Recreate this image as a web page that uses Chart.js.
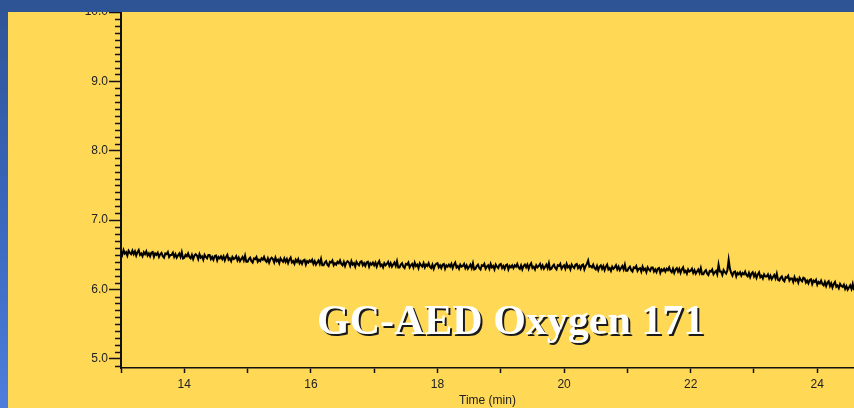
<!DOCTYPE html>
<html>
<head>
<meta charset="utf-8">
<script src="https://cdn.jsdelivr.net/npm/chart.js@4/dist/chart.umd.min.js"></script>
<style>
  html, body { margin: 0; padding: 0; background: #2F5496; }
  #stage { position: relative; width: 854px; height: 408px; overflow: hidden; background: #FFD856; }
  #side { position: absolute; left: 0; top: 0; width: 8px; height: 408px;
          background: linear-gradient(#2F5496, #3A66BB 50%, #4D7EDC); }
  #band { position: absolute; left: 0; top: 0; width: 854px; height: 12px; background: #2F5496; }
  #chart { position: absolute; left: 8px; top: 0; }
  #title { position: absolute; left: 317px; top: 299px; white-space: nowrap;
           font-family: "Liberation Serif", "Times New Roman", serif; font-weight: bold;
           font-size: 42px; line-height: 42px; color: #ffffff;
           text-shadow: 2px 2px 0 #1a1a1a; }
</style>
</head>
<body>
<div id="stage">
  <div id="side"></div>
  <canvas id="chart" width="846" height="408"></canvas>
  <div id="band"></div>
  <div id="title">GC-AED Oxygen 171</div>
</div>
<script>
// Detector signal (oxygen channel), one reading per sample
const sampleStart = 13.0;      // min
const sampleInterval = 0.02;   // min
const signal = [
  6.55, 6.50, 6.57, 6.52, 6.54, 6.49, 6.56, 6.53, 6.51, 6.56,
  6.51, 6.55, 6.49, 6.54, 6.57, 6.50, 6.52, 6.48, 6.54, 6.51,
  6.55, 6.49, 6.52, 6.48, 6.53, 6.54, 6.47, 6.52, 6.50, 6.53,
  6.47, 6.51, 6.53, 6.48, 6.46, 6.52, 6.51, 6.54, 6.47, 6.50,
  6.50, 6.53, 6.47, 6.51, 6.46, 6.49, 6.52, 6.47, 6.54, 6.45,
  6.46, 6.50, 6.48, 6.52, 6.47, 6.45, 6.50, 6.44, 6.49, 6.51,
  6.49, 6.44, 6.51, 6.46, 6.48, 6.43, 6.50, 6.47, 6.45, 6.50,
  6.50, 6.44, 6.47, 6.43, 6.48, 6.49, 6.42, 6.47, 6.45, 6.48,
  6.44, 6.48, 6.42, 6.47, 6.50, 6.43, 6.45, 6.41, 6.47, 6.44,
  6.45, 6.48, 6.42, 6.46, 6.41, 6.44, 6.47, 6.42, 6.49, 6.40,
  6.40, 6.44, 6.46, 6.41, 6.39, 6.45, 6.44, 6.47, 6.40, 6.43,
  6.41, 6.45, 6.43, 6.47, 6.42, 6.40, 6.45, 6.39, 6.44, 6.46,
  6.44, 6.39, 6.46, 6.41, 6.43, 6.38, 6.45, 6.42, 6.40, 6.45,
  6.40, 6.44, 6.38, 6.43, 6.46, 6.39, 6.41, 6.37, 6.43, 6.40,
  6.44, 6.38, 6.41, 6.37, 6.42, 6.43, 6.36, 6.41, 6.39, 6.42,
  6.40, 6.43, 6.37, 6.41, 6.36, 6.39, 6.42, 6.37, 6.44, 6.35,
  6.35, 6.39, 6.41, 6.36, 6.34, 6.40, 6.39, 6.42, 6.35, 6.38,
  6.36, 6.40, 6.38, 6.42, 6.37, 6.35, 6.40, 6.34, 6.39, 6.41,
  6.39, 6.34, 6.41, 6.36, 6.38, 6.33, 6.40, 6.37, 6.35, 6.40,
  6.41, 6.35, 6.38, 6.34, 6.39, 6.40, 6.33, 6.38, 6.36, 6.39,
  6.35, 6.39, 6.33, 6.38, 6.41, 6.34, 6.36, 6.32, 6.38, 6.35,
  6.37, 6.40, 6.34, 6.38, 6.33, 6.36, 6.39, 6.34, 6.41, 6.32,
  6.32, 6.36, 6.38, 6.33, 6.31, 6.37, 6.36, 6.39, 6.32, 6.35,
  6.37, 6.32, 6.39, 6.34, 6.36, 6.31, 6.38, 6.35, 6.33, 6.38,
  6.32, 6.36, 6.34, 6.38, 6.33, 6.31, 6.36, 6.30, 6.35, 6.37,
  6.38, 6.32, 6.35, 6.31, 6.36, 6.37, 6.30, 6.35, 6.33, 6.36,
  6.33, 6.37, 6.31, 6.36, 6.39, 6.32, 6.34, 6.30, 6.36, 6.33,
  6.34, 6.37, 6.31, 6.35, 6.30, 6.33, 6.36, 6.31, 6.38, 6.29,
  6.30, 6.34, 6.36, 6.31, 6.29, 6.35, 6.34, 6.37, 6.30, 6.33,
  6.35, 6.30, 6.37, 6.32, 6.34, 6.29, 6.36, 6.33, 6.31, 6.36,
  6.37, 6.31, 6.34, 6.30, 6.35, 6.36, 6.29, 6.34, 6.32, 6.35,
  6.31, 6.35, 6.33, 6.37, 6.32, 6.30, 6.35, 6.29, 6.34, 6.36,
  6.32, 6.36, 6.30, 6.35, 6.38, 6.31, 6.33, 6.29, 6.35, 6.32,
  6.34, 6.37, 6.31, 6.35, 6.30, 6.33, 6.36, 6.31, 6.38, 6.29,
  6.30, 6.34, 6.36, 6.31, 6.29, 6.35, 6.34, 6.37, 6.30, 6.33,
  6.35, 6.30, 6.37, 6.32, 6.34, 6.29, 6.36, 6.33, 6.31, 6.36,
  6.37, 6.31, 6.34, 6.30, 6.35, 6.36, 6.29, 6.34, 6.37, 6.42,
  6.33, 6.34, 6.32, 6.36, 6.31, 6.29, 6.34, 6.28, 6.33, 6.35,
  6.30, 6.34, 6.28, 6.33, 6.36, 6.29, 6.31, 6.27, 6.33, 6.30,
  6.32, 6.35, 6.29, 6.33, 6.28, 6.31, 6.34, 6.29, 6.36, 6.27,
  6.27, 6.31, 6.33, 6.28, 6.26, 6.32, 6.31, 6.34, 6.27, 6.30,
  6.31, 6.26, 6.33, 6.28, 6.30, 6.25, 6.32, 6.29, 6.27, 6.32,
  6.32, 6.26, 6.29, 6.25, 6.30, 6.31, 6.24, 6.29, 6.27, 6.30,
  6.26, 6.30, 6.28, 6.32, 6.27, 6.25, 6.30, 6.24, 6.29, 6.31,
  6.26, 6.30, 6.24, 6.29, 6.32, 6.25, 6.27, 6.23, 6.29, 6.26,
  6.27, 6.30, 6.24, 6.28, 6.23, 6.26, 6.29, 6.24, 6.31, 6.22,
  6.22, 6.26, 6.28, 6.23, 6.21, 6.27, 6.26, 6.29, 6.22, 6.25,
  6.27, 6.22, 6.36, 6.26, 6.26, 6.21, 6.28, 6.25, 6.23, 6.28,
  6.43, 6.30, 6.24, 6.20, 6.25, 6.26, 6.19, 6.24, 6.22, 6.25,
  6.20, 6.24, 6.22, 6.26, 6.21, 6.19, 6.24, 6.18, 6.23, 6.25,
  6.19, 6.23, 6.17, 6.22, 6.25, 6.18, 6.20, 6.16, 6.22, 6.19,
  6.19, 6.22, 6.16, 6.20, 6.15, 6.18, 6.21, 6.16, 6.23, 6.14,
  6.13, 6.17, 6.19, 6.14, 6.12, 6.18, 6.17, 6.20, 6.13, 6.16,
  6.16, 6.11, 6.18, 6.13, 6.15, 6.10, 6.17, 6.14, 6.12, 6.17,
  6.16, 6.10, 6.13, 6.09, 6.14, 6.15, 6.08, 6.13, 6.11, 6.14,
  6.07, 6.11, 6.09, 6.13, 6.08, 6.06, 6.11, 6.05, 6.10, 6.12,
  6.05, 6.09, 6.03, 6.08, 6.11, 6.04, 6.06, 6.02, 6.08, 6.05,
  6.04, 6.07, 6.01, 6.05, 6.00, 6.03, 6.06, 6.01, 6.08, 5.99,
  5.99
];

const xTickLabels = ['14', '16', '18', '20', '22', '24'];
const yTickLabels = ['5.0', '6.0', '7.0', '8.0', '9.0', '10.0'];
const xRange = [13.0, 24.58];
const yRange = [4.87, 10.0];

const points = signal.map((v, i) => ({ x: sampleStart + i * sampleInterval, y: v }));

const isWhole = v => Math.abs(v - Math.round(v)) < 1e-9;

// Short unlabeled ticks every 0.1 on the value axis
const minorTicks = {
  id: 'minorTicks',
  afterDraw(chart) {
    const y = chart.scales.y;
    const ctx = chart.ctx;
    ctx.save();
    ctx.strokeStyle = '#111';
    ctx.lineWidth = 1.5;
    for (const t of y.ticks) {
      if (isWhole(t.value)) continue;
      const py = Math.round(y.getPixelForValue(t.value)) + 0.5;
      ctx.beginPath();
      ctx.moveTo(y.right - 6, py);
      ctx.lineTo(y.right, py);
      ctx.stroke();
    }
    ctx.restore();
  }
};

new Chart(document.getElementById('chart'), {
  type: 'line',
  data: {
    datasets: [{
      data: points,
      borderColor: '#000',
      borderWidth: 2,
      pointRadius: 0,
      tension: 0,
      fill: false
    }]
  },
  options: {
    responsive: false,
    animation: false,
    events: [],
    layout: { padding: { top: 12, left: 0, right: 0, bottom: 0 } },
    plugins: { legend: { display: false }, tooltip: { enabled: false } },
    scales: {
      x: {
        type: 'linear',
        min: xRange[0],
        max: xRange[1],
        afterFit(scale) { scale.height = 40; },
        border: { display: true, color: '#111', width: 1.5 },
        grid: { drawOnChartArea: false, drawTicks: true, tickLength: 5, tickColor: '#111', tickWidth: 1.5 },
        ticks: {
          stepSize: 1,
          includeBounds: false,
          autoSkip: false,
          maxRotation: 0,
          padding: 4,
          color: '#222',
          font: { family: '"Liberation Sans", Arial, sans-serif', size: 12 },
          callback(v) { const s = String(v); return xTickLabels.includes(s) ? s : ''; }
        },
        title: {
          display: true,
          text: 'Time (min)',
          color: '#222',
          font: { family: '"Liberation Sans", Arial, sans-serif', size: 12 },
          padding: { top: 0, bottom: 0 }
        }
      },
      y: {
        type: 'linear',
        min: yRange[0],
        max: yRange[1],
        afterFit(scale) { scale.width = 113; },
        border: { display: true, color: '#111', width: 2 },
        grid: {
          drawOnChartArea: false, drawTicks: true, tickLength: 12, tickWidth: 1.5,
          tickColor: c => (c.tick && isWhole(c.tick.value)) ? '#111' : 'rgba(0,0,0,0)'
        },
        ticks: {
          stepSize: 0.1,
          includeBounds: false,
          autoSkip: false,
          padding: 1,
          color: '#222',
          font: { family: '"Liberation Sans", Arial, sans-serif', size: 12 },
          callback(v) {
            if (!isWhole(v)) return '';
            const s = Number(v).toFixed(1);
            return yTickLabels.includes(s) ? s : '';
          }
        }
      }
    }
  },
  plugins: [minorTicks]
});
</script>
</body>
</html>
